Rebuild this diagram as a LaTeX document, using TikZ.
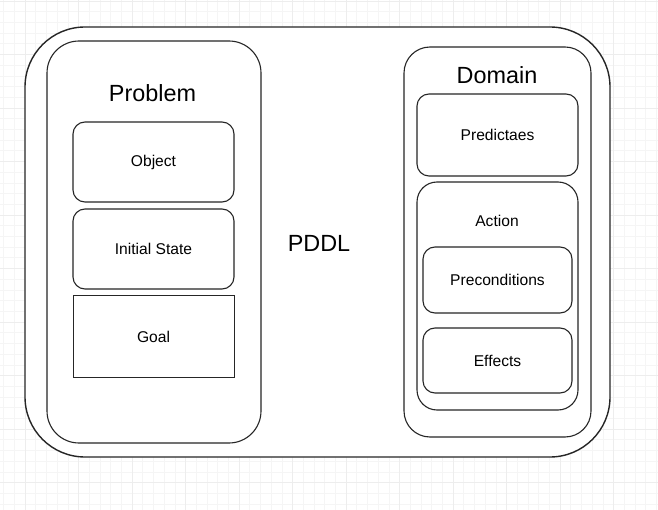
\documentclass[tikz,border=0pt]{standalone}
\usepackage{fontspec}
\setmainfont{Liberation Sans}
\begin{document}
\begin{tikzpicture}[x=1pt,y=-1pt,
  box/.style={draw=black!85,line width=1.1pt,fill=white,rounded corners=#1,inner sep=0pt},
  box/.default=12pt,
  small/.style={font=\fontsize{15.6}{18}\selectfont},
  big/.style={font=\fontsize{23.4}{27}\selectfont}]
\useasboundingbox (0,0) rectangle (658,510);
\fill[white] (0,0) rectangle (658,510);
% grid
\foreach \k in {0,...,61} {
  \draw[black!4,line width=0.6pt] ({3.6+10.7*\k},0) -- ({3.6+10.7*\k},510);
}
\foreach \k in {0,...,48} {
  \draw[black!4,line width=0.6pt] (0,{1+10.7*\k}) -- (658,{1+10.7*\k});
}
\foreach \k in {0,...,12} {
  \draw[black!7,line width=0.7pt] ({25+53.5*\k},0) -- ({25+53.5*\k},510);
}
\foreach \k in {0,...,9} {
  \draw[black!7,line width=0.7pt] (0,{1+53.5*\k}) -- (658,{1+53.5*\k});
}
% outer
\node[box=60pt,line width=1.4pt,minimum width=585pt,minimum height=430pt] (pddl) at (317.5,242) {};
\node[big] (pddllabel) at (319,243) {PDDL};
% problem
\node[box=32pt,minimum width=214pt,minimum height=402pt] (problem) at (154,242) {};
\node[big] (problemlabel) at (152.5,93) {Problem};
\node[box,small,minimum width=161pt,minimum height=80pt] (object) at (153.5,162) {Object};
\node[box,small,minimum width=161pt,minimum height=80pt] (init) at (153.5,249) {Initial State};
\node[box=0pt,sharp corners,line width=1pt,small,minimum width=161pt,minimum height=81pt] (goal) at (153.5,336.5) {Goal};
% domain
\node[box=26pt,minimum width=187pt,minimum height=390pt] (domain) at (497.5,242) {};
\node[big] (domainlabel) at (497,75) {Domain};
\node[box,small,minimum width=161pt,minimum height=82pt] (pred) at (497.5,135) {Predictaes};
\node[box=20pt,minimum width=161pt,minimum height=228pt] (action) at (497.5,296) {};
\node[small] (actionlabel) at (497,221) {Action};
\node[box,small,minimum width=149pt,minimum height=66pt] (precond) at (497.5,280) {Preconditions};
\node[box,small,minimum width=149pt,minimum height=65pt] (effects) at (497.5,360.5) {Effects};
\end{tikzpicture}
\end{document}
